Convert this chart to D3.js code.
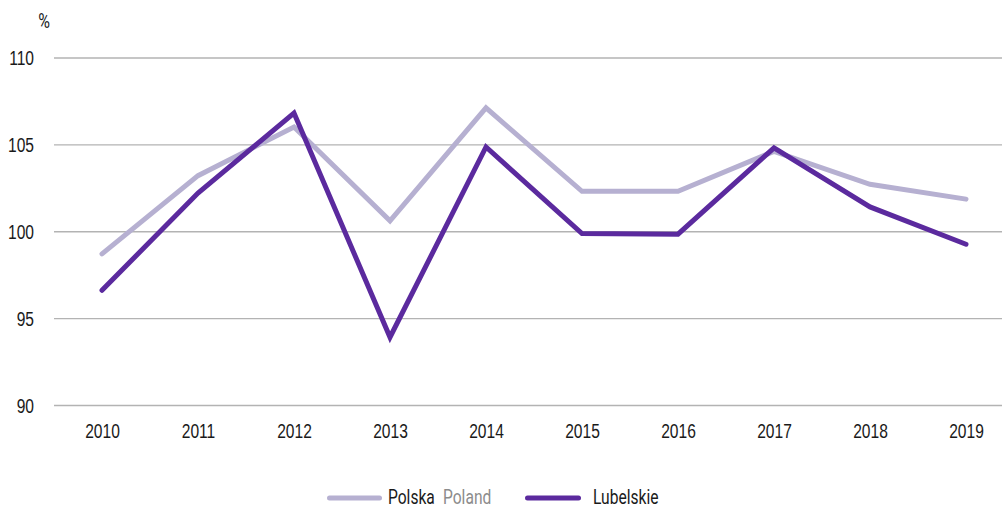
<!DOCTYPE html>
<html>
<head>
<meta charset="utf-8">
<script src="https://cdn.jsdelivr.net/npm/d3@7"></script>
<style>
  html, body { margin: 0; padding: 0; background: #fff; }
  svg { display: block; font-family: Roboto, "Liberation Sans", sans-serif; }
</style>
</head>
<body>
<svg id="chart" width="1002" height="508"></svg>
<script>
// Dynamics index, previous year = 100
const years = ["2010","2011","2012","2013","2014","2015","2016","2017","2018","2019"];
const polska = [98.7, 103.2, 106.0, 100.6, 107.1, 102.3, 102.3, 104.6, 102.7, 101.85];
const lubelskie = [96.6, 102.2, 106.8, 93.9, 104.85, 99.87, 99.83, 104.8, 101.4, 99.25];
const yTicks = [90, 95, 100, 105, 110];

const svg = d3.select("#chart");
const plotLeft = 54, plotRight = 1014, plotTop = 57.5, plotBottom = 405;
const fontSize = 19.5;
const narrow = 0.8; // horizontal squeeze for a condensed look

// squeeze text horizontally while keeping its anchor x in place
function condense(sel) {
  sel.each(function () {
    const t = d3.select(this);
    const x0 = +t.attr("x") || 0;
    t.attr("x", x0 / narrow).attr("transform", `scale(${narrow},1)`);
  });
}

const x = d3.scalePoint().domain(years).range([plotLeft, plotRight]).padding(0.5);
const y = d3.scaleLinear().domain([90, 110]).range([plotBottom, plotTop]);

// Gridlines and y labels
const yAxis = svg.append("g").attr("transform", `translate(${plotLeft},0)`)
  .call(d3.axisLeft(y).tickValues(yTicks).tickSize(-(1002 - plotLeft)).tickPadding(20).tickFormat(d3.format("d")));
yAxis.select(".domain").remove();
yAxis.selectAll(".tick line").attr("stroke", "#b3b3b3").attr("stroke-width", 1.3);
yAxis.selectAll(".tick text").attr("font-size", fontSize).attr("fill", "#1a1a1a")
  .attr("font-family", "inherit").attr("dy", "0.36em").call(condense);

svg.append("text").attr("x", 44).attr("y", 28).attr("text-anchor", "middle")
  .attr("font-size", 20).attr("fill", "#1a1a1a").text("%").call(condense);

// x labels
const xAxis = svg.append("g").attr("transform", `translate(0,${plotBottom})`)
  .call(d3.axisBottom(x).tickSize(0).tickPadding(0));
xAxis.select(".domain").remove();
xAxis.selectAll(".tick text").attr("font-size", fontSize).attr("fill", "#1a1a1a")
  .attr("font-family", "inherit").attr("y", 33).attr("dy", null).call(condense);

const line = d3.line().x((d, i) => x(years[i])).y(d => y(d));

const series = [
  { values: polska, color: "#b6b0d1" },
  { values: lubelskie, color: "#5b2a9e" }
];
series.forEach(s => {
  svg.append("path").datum(s.values)
    .attr("d", line).attr("fill", "none")
    .attr("stroke", s.color).attr("stroke-width", 5)
    .attr("stroke-linejoin", "miter").attr("stroke-linecap", "round");
});

// Legend
const ly = 498, ty = 504;
const legend = svg.append("g");
legend.append("line").attr("x1", 329.5).attr("x2", 379.5).attr("y1", ly).attr("y2", ly)
  .attr("stroke", "#b6b0d1").attr("stroke-width", 5).attr("stroke-linecap", "round");
legend.append("text").attr("x", 388).attr("y", ty).attr("font-size", fontSize).attr("fill", "#1a1a1a").text("Polska").call(condense);
legend.append("text").attr("x", 443).attr("y", ty).attr("font-size", fontSize).attr("fill", "#8c8c8c").text("Poland").call(condense);
legend.append("line").attr("x1", 527.5).attr("x2", 578.5).attr("y1", ly).attr("y2", ly)
  .attr("stroke", "#5b2a9e").attr("stroke-width", 5).attr("stroke-linecap", "round");
legend.append("text").attr("x", 593).attr("y", ty).attr("font-size", fontSize).attr("fill", "#1a1a1a").text("Lubelskie").call(condense);
</script>
</body>
</html>
